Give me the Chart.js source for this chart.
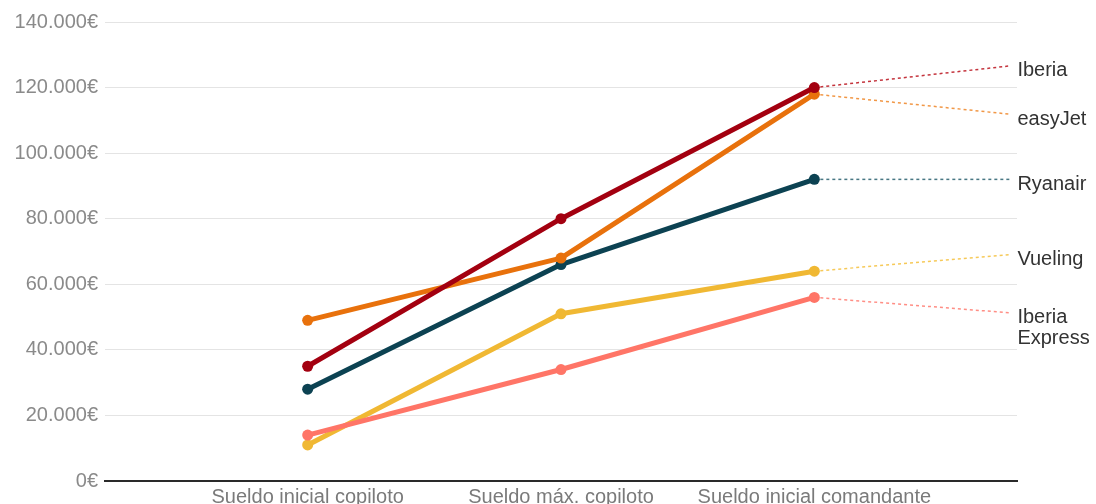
<!DOCTYPE html>
<html>
<head>
<meta charset="utf-8">
<script src="https://cdn.jsdelivr.net/npm/chart.js@4.4.1/dist/chart.umd.min.js"></script>
<style>
  html, body { margin: 0; padding: 0; background: #fff; overflow: hidden; }
  #wrap { width: 1096px; height: 504px; overflow: hidden; }
</style>
</head>
<body>
<div id="wrap"><canvas id="c" width="1096" height="513"></canvas></div>
<script>
// ---- data ----
const categories = ['Sueldo inicial copiloto', 'Sueldo máx. copiloto', 'Sueldo inicial comandante'];
const airlines = ['Iberia', 'easyJet', 'Ryanair', 'Iberia Express', 'Vueling'];
const iberia = [35000, 80000, 120000];
const easyjet = [49000, 68000, 118000];
const ryanair = [28000, 66000, 92000];
const iberiaExpress = [14000, 34000, 56000];
const vueling = [11000, 51000, 64000];
// value level where each end-label sits (same order as airlines)
const labelLevels = [126600, 111900, 92000, 51300, 69050];
const labelTexts = [['Iberia'], ['easyJet'], ['Ryanair'], ['Iberia', 'Express'], ['Vueling']];
const yTicks = [0, 20000, 40000, 60000, 80000, 100000, 120000, 140000];

// ---- styling ----
const seriesValues = [iberia, easyjet, ryanair, iberiaExpress, vueling];
const colors = ['#a30010', '#e8710c', '#0c4252', '#ff7567', '#f0b833'];
const dashColors = ['rgba(190,30,40,0.9)', 'rgba(240,140,50,0.9)', 'rgba(40,95,110,0.85)', 'rgba(255,130,120,0.9)', 'rgba(245,195,70,0.9)'];
const LABEL_END = 3.77;
const FONT = '"Liberation Sans", Arial, sans-serif';

function fmt(v) {
  if (v === 0) return '0€';
  return String(v).replace(/\B(?=(\d{3})+(?!\d))/g, '.') + '€';
}

const datasets = [];
airlines.forEach((name, i) => {
  datasets.push({
    label: name,
    data: seriesValues[i].map((v, k) => ({ x: k + 1, y: v })),
    borderColor: colors[i],
    backgroundColor: colors[i],
    borderWidth: 5,
    borderJoinStyle: 'round',
    borderCapStyle: 'round',
    pointRadius: 5.5,
    pointHoverRadius: 5.5,
    pointBorderWidth: 0,
    pointBackgroundColor: colors[i],
    tension: 0,
    order: i
  });
});
airlines.forEach((name, i) => {
  const last = seriesValues[i][seriesValues[i].length - 1];
  datasets.push({
    label: name + ' label',
    data: [{ x: categories.length, y: last }, { x: LABEL_END, y: labelLevels[i] }],
    borderColor: dashColors[i],
    borderWidth: 1.5,
    borderDash: [3, 3],
    pointRadius: 0,
    pointHoverRadius: 0,
    order: 10 + i
  });
});

const endLabels = {
  id: 'endLabels',
  afterDatasetsDraw(chart) {
    const { ctx, scales: { x, y } } = chart;
    ctx.save();
    ctx.font = '20px ' + FONT;
    ctx.fillStyle = '#333';
    ctx.textAlign = 'left';
    ctx.textBaseline = 'middle';
    labelTexts.forEach((lines, i) => {
      const px = x.getPixelForValue(LABEL_END) + 8;
      const py = y.getPixelForValue(labelLevels[i]) + 5;
      lines.forEach((t, j) => ctx.fillText(t, px, py + j * 21));
    });
    ctx.restore();
  }
};

new Chart(document.getElementById('c'), {
  type: 'line',
  data: { datasets },
  plugins: [endLabels],
  options: {
    responsive: false,
    animation: false,
    events: [],
    layout: { padding: { top: 22, right: 79, left: 0, bottom: 0 } },
    plugins: { legend: { display: false }, tooltip: { enabled: false } },
    scales: {
      x: {
        type: 'linear',
        min: 0.2,
        max: 3.8,
        afterBuildTicks: (s) => { s.ticks = categories.map((c, k) => ({ value: k + 1 })); },
        ticks: {
          callback: (v) => categories[Math.round(v) - 1] || '',
          color: '#7a7a7a',
          font: { family: FONT, size: 20 },
          padding: 4,
          maxRotation: 0,
          autoSkip: false
        },
        grid: { display: false, drawTicks: false },
        border: { display: true, color: '#2a2a2a', width: 2 }
      },
      y: {
        min: 0,
        max: 140000,
        afterBuildTicks: (s) => { s.ticks = yTicks.map(v => ({ value: v })); },
        afterFit: (s) => { s.width = 105; },
        ticks: {
          callback: (v) => fmt(v),
          color: '#8a8a8a',
          font: { family: FONT, size: 20 },
          padding: 7
        },
        grid: { color: '#e4e4e4', lineWidth: 1, drawTicks: false },
        border: { display: false }
      }
    }
  }
});
</script>
</body>
</html>
